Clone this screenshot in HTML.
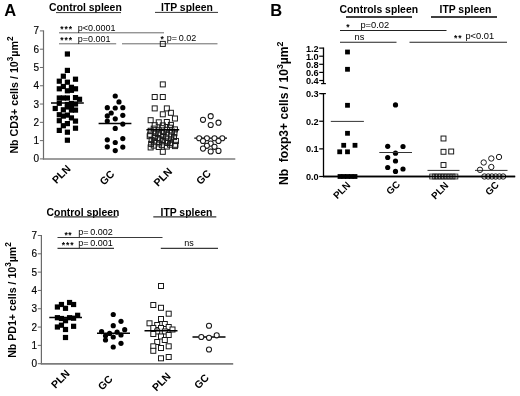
<!DOCTYPE html>
<html lang="en">
<head>
<meta charset="utf-8">
<title>Figure</title>
<style>
html,body{margin:0;padding:0;background:#fff;}
body{width:520px;height:396px;overflow:hidden;}
svg{display:block;font-family:"Liberation Sans", sans-serif;}
</style>
</head>
<body>
<svg width="520" height="396" viewBox="0 0 520 396">
<rect x="0" y="0" width="520" height="396" fill="#fff"/>
<text x="4.3" y="16.4" font-size="16.5" font-weight="bold" text-anchor="start" fill="#000" >A</text>
<text x="49" y="11.3" font-size="10.4" font-weight="bold" text-anchor="start" fill="#000" >Control spleen</text>
<line x1="56" y1="12.6" x2="121" y2="12.6" stroke="#333" stroke-width="1" />
<text x="161" y="11.3" font-size="10.4" font-weight="bold" text-anchor="start" fill="#000" >ITP spleen</text>
<line x1="155" y1="12.4" x2="218" y2="12.4" stroke="#333" stroke-width="1" />
<line x1="43.5" y1="30.4" x2="43.5" y2="159.5" stroke="#6a6a6a" stroke-width="1.2" />
<line x1="42.9" y1="159.0" x2="235.3" y2="159.0" stroke="#7c7c7c" stroke-width="1.7" />
<line x1="39.9" y1="158.9" x2="43.5" y2="158.9" stroke="#6a6a6a" stroke-width="1" />
<text x="39.1" y="162.4" font-size="10" text-anchor="end" fill="#000" stroke="#000" stroke-width="0.15">0</text>
<line x1="39.9" y1="140.61" x2="43.5" y2="140.61" stroke="#6a6a6a" stroke-width="1" />
<text x="39.1" y="144.11" font-size="10" text-anchor="end" fill="#000" stroke="#000" stroke-width="0.15">1</text>
<line x1="39.9" y1="122.33" x2="43.5" y2="122.33" stroke="#6a6a6a" stroke-width="1" />
<text x="39.1" y="125.83" font-size="10" text-anchor="end" fill="#000" stroke="#000" stroke-width="0.15">2</text>
<line x1="39.9" y1="104.04" x2="43.5" y2="104.04" stroke="#6a6a6a" stroke-width="1" />
<text x="39.1" y="107.54" font-size="10" text-anchor="end" fill="#000" stroke="#000" stroke-width="0.15">3</text>
<line x1="39.9" y1="85.76" x2="43.5" y2="85.76" stroke="#6a6a6a" stroke-width="1" />
<text x="39.1" y="89.26" font-size="10" text-anchor="end" fill="#000" stroke="#000" stroke-width="0.15">4</text>
<line x1="39.9" y1="67.47" x2="43.5" y2="67.47" stroke="#6a6a6a" stroke-width="1" />
<text x="39.1" y="70.97" font-size="10" text-anchor="end" fill="#000" stroke="#000" stroke-width="0.15">5</text>
<line x1="39.9" y1="49.19" x2="43.5" y2="49.19" stroke="#6a6a6a" stroke-width="1" />
<text x="39.1" y="52.69" font-size="10" text-anchor="end" fill="#000" stroke="#000" stroke-width="0.15">6</text>
<line x1="39.9" y1="30.9" x2="43.5" y2="30.9" stroke="#6a6a6a" stroke-width="1" />
<text x="39.1" y="34.4" font-size="10" text-anchor="end" fill="#000" stroke="#000" stroke-width="0.15">7</text>
<text x="17.8" y="153.6" font-size="10.7" font-weight="bold" text-anchor="start" fill="#000" transform="rotate(-90 17.8 153.6)" >Nb CD3+ cells / 10<tspan dy="-4.8" font-size="8.2">3</tspan><tspan dy="4.8">µm</tspan><tspan dy="-4.8" font-size="8.2">2</tspan></text>
<line x1="59" y1="32.8" x2="164" y2="32.8" stroke="#6a6a6a" stroke-width="1" />
<line x1="59" y1="43.8" x2="116.2" y2="43.8" stroke="#6a6a6a" stroke-width="1" />
<line x1="122" y1="43.8" x2="217.5" y2="43.8" stroke="#6a6a6a" stroke-width="1" />
<text x="61.8" y="31.78" font-size="8.5" font-weight="bold" text-anchor="middle" fill="#000">*</text>
<text x="66.2" y="31.78" font-size="8.5" font-weight="bold" text-anchor="middle" fill="#000">*</text>
<text x="70.5" y="31.78" font-size="8.5" font-weight="bold" text-anchor="middle" fill="#000">*</text>
<text x="77.7" y="30.5" font-size="9.0" text-anchor="start" fill="#000" >p&lt;0.0001</text>
<text x="61.8" y="42.97" font-size="8.5" font-weight="bold" text-anchor="middle" fill="#000">*</text>
<text x="66.2" y="42.97" font-size="8.5" font-weight="bold" text-anchor="middle" fill="#000">*</text>
<text x="70.5" y="42.97" font-size="8.5" font-weight="bold" text-anchor="middle" fill="#000">*</text>
<text x="77.7" y="41.6" font-size="9.0" text-anchor="start" fill="#000" >p=0.001</text>
<text x="162.2" y="42.17" font-size="8.5" font-weight="bold" text-anchor="middle" fill="#000">*</text>
<text x="166.8" y="41.4" font-size="9.0" fill="#000">p=<tspan dx="1.6">0.02</tspan></text>
<rect x="52.65" y="105.90" width="5.2" height="5.2" fill="#000"/>
<rect x="56.70" y="78.60" width="5.2" height="5.2" fill="#000"/>
<rect x="56.70" y="86.20" width="5.2" height="5.2" fill="#000"/>
<rect x="56.70" y="95.40" width="5.2" height="5.2" fill="#000"/>
<rect x="56.70" y="100.70" width="5.2" height="5.2" fill="#000"/>
<rect x="56.70" y="112.10" width="5.2" height="5.2" fill="#000"/>
<rect x="56.70" y="118.10" width="5.2" height="5.2" fill="#000"/>
<rect x="56.70" y="127.80" width="5.2" height="5.2" fill="#000"/>
<rect x="60.75" y="73.60" width="5.2" height="5.2" fill="#000"/>
<rect x="60.75" y="83.90" width="5.2" height="5.2" fill="#000"/>
<rect x="60.75" y="95.40" width="5.2" height="5.2" fill="#000"/>
<rect x="60.75" y="107.20" width="5.2" height="5.2" fill="#000"/>
<rect x="60.75" y="113.50" width="5.2" height="5.2" fill="#000"/>
<rect x="60.75" y="123.10" width="5.2" height="5.2" fill="#000"/>
<rect x="64.80" y="51.40" width="5.2" height="5.2" fill="#000"/>
<rect x="64.80" y="67.80" width="5.2" height="5.2" fill="#000"/>
<rect x="64.80" y="79.60" width="5.2" height="5.2" fill="#000"/>
<rect x="64.80" y="88.20" width="5.2" height="5.2" fill="#000"/>
<rect x="64.80" y="95.40" width="5.2" height="5.2" fill="#000"/>
<rect x="64.80" y="101.90" width="5.2" height="5.2" fill="#000"/>
<rect x="64.80" y="104.40" width="5.2" height="5.2" fill="#000"/>
<rect x="64.80" y="112.50" width="5.2" height="5.2" fill="#000"/>
<rect x="64.80" y="121.00" width="5.2" height="5.2" fill="#000"/>
<rect x="64.80" y="129.60" width="5.2" height="5.2" fill="#000"/>
<rect x="64.80" y="137.60" width="5.2" height="5.2" fill="#000"/>
<rect x="68.85" y="84.70" width="5.2" height="5.2" fill="#000"/>
<rect x="68.85" y="87.70" width="5.2" height="5.2" fill="#000"/>
<rect x="68.85" y="100.90" width="5.2" height="5.2" fill="#000"/>
<rect x="68.85" y="104.90" width="5.2" height="5.2" fill="#000"/>
<rect x="68.85" y="107.50" width="5.2" height="5.2" fill="#000"/>
<rect x="68.85" y="115.30" width="5.2" height="5.2" fill="#000"/>
<rect x="72.90" y="76.60" width="5.2" height="5.2" fill="#000"/>
<rect x="72.90" y="86.20" width="5.2" height="5.2" fill="#000"/>
<rect x="72.90" y="95.00" width="5.2" height="5.2" fill="#000"/>
<rect x="72.90" y="101.40" width="5.2" height="5.2" fill="#000"/>
<rect x="72.90" y="107.50" width="5.2" height="5.2" fill="#000"/>
<rect x="72.90" y="118.50" width="5.2" height="5.2" fill="#000"/>
<rect x="72.90" y="125.60" width="5.2" height="5.2" fill="#000"/>
<rect x="76.95" y="96.70" width="5.2" height="5.2" fill="#000"/>
<line x1="51" y1="102.9" x2="83.8" y2="102.9" stroke="#000" stroke-width="1.45" />
<circle cx="115.25" cy="96.00" r="2.6" fill="#000"/>
<circle cx="119.00" cy="101.90" r="2.6" fill="#000"/>
<circle cx="107.30" cy="107.70" r="2.6" fill="#000"/>
<circle cx="115.25" cy="108.00" r="2.6" fill="#000"/>
<circle cx="122.80" cy="107.70" r="2.6" fill="#000"/>
<circle cx="111.20" cy="113.00" r="2.6" fill="#000"/>
<circle cx="107.30" cy="115.90" r="2.6" fill="#000"/>
<circle cx="122.80" cy="115.30" r="2.6" fill="#000"/>
<circle cx="115.25" cy="118.80" r="2.6" fill="#000"/>
<circle cx="107.30" cy="121.00" r="2.6" fill="#000"/>
<circle cx="122.80" cy="124.10" r="2.6" fill="#000"/>
<circle cx="115.25" cy="128.40" r="2.6" fill="#000"/>
<circle cx="122.80" cy="138.60" r="2.6" fill="#000"/>
<circle cx="107.30" cy="139.80" r="2.6" fill="#000"/>
<circle cx="115.25" cy="142.50" r="2.6" fill="#000"/>
<circle cx="107.30" cy="146.80" r="2.6" fill="#000"/>
<circle cx="122.80" cy="147.10" r="2.6" fill="#000"/>
<circle cx="115.25" cy="150.60" r="2.6" fill="#000"/>
<line x1="98.6" y1="123.5" x2="131.4" y2="123.5" stroke="#000" stroke-width="1.45" />
<rect x="160.30" y="41.40" width="5.0" height="5.0" fill="none" stroke="#1a1a1a" stroke-width="1.0"/>
<rect x="160.30" y="81.90" width="5.0" height="5.0" fill="none" stroke="#1a1a1a" stroke-width="1.0"/>
<rect x="152.20" y="94.50" width="5.0" height="5.0" fill="none" stroke="#1a1a1a" stroke-width="1.0"/>
<rect x="160.30" y="94.50" width="5.0" height="5.0" fill="none" stroke="#1a1a1a" stroke-width="1.0"/>
<rect x="152.20" y="105.90" width="5.0" height="5.0" fill="none" stroke="#1a1a1a" stroke-width="1.0"/>
<rect x="164.35" y="105.90" width="5.0" height="5.0" fill="none" stroke="#1a1a1a" stroke-width="1.0"/>
<rect x="168.40" y="110.30" width="5.0" height="5.0" fill="none" stroke="#1a1a1a" stroke-width="1.0"/>
<rect x="160.30" y="111.80" width="5.0" height="5.0" fill="none" stroke="#1a1a1a" stroke-width="1.0"/>
<rect x="172.45" y="116.00" width="5.0" height="5.0" fill="none" stroke="#1a1a1a" stroke-width="1.0"/>
<rect x="148.15" y="117.70" width="5.0" height="5.0" fill="none" stroke="#1a1a1a" stroke-width="1.0"/>
<rect x="156.25" y="119.80" width="5.0" height="5.0" fill="none" stroke="#1a1a1a" stroke-width="1.0"/>
<rect x="164.35" y="119.50" width="5.0" height="5.0" fill="none" stroke="#1a1a1a" stroke-width="1.0"/>
<rect x="152.20" y="122.70" width="5.0" height="5.0" fill="none" stroke="#1a1a1a" stroke-width="1.0"/>
<rect x="160.30" y="122.90" width="5.0" height="5.0" fill="none" stroke="#1a1a1a" stroke-width="1.0"/>
<rect x="168.40" y="122.40" width="5.0" height="5.0" fill="none" stroke="#1a1a1a" stroke-width="1.0"/>
<rect x="151.23" y="126.10" width="5.0" height="5.0" fill="none" stroke="#1a1a1a" stroke-width="1.0"/>
<rect x="159.33" y="125.65" width="5.0" height="5.0" fill="none" stroke="#1a1a1a" stroke-width="1.0"/>
<rect x="167.43" y="125.20" width="5.0" height="5.0" fill="none" stroke="#1a1a1a" stroke-width="1.0"/>
<rect x="148.15" y="128.25" width="5.0" height="5.0" fill="none" stroke="#1a1a1a" stroke-width="1.0"/>
<rect x="156.25" y="127.80" width="5.0" height="5.0" fill="none" stroke="#1a1a1a" stroke-width="1.0"/>
<rect x="164.35" y="127.35" width="5.0" height="5.0" fill="none" stroke="#1a1a1a" stroke-width="1.0"/>
<rect x="172.45" y="126.90" width="5.0" height="5.0" fill="none" stroke="#1a1a1a" stroke-width="1.0"/>
<rect x="153.17" y="129.95" width="5.0" height="5.0" fill="none" stroke="#1a1a1a" stroke-width="1.0"/>
<rect x="161.27" y="129.50" width="5.0" height="5.0" fill="none" stroke="#1a1a1a" stroke-width="1.0"/>
<rect x="169.37" y="129.05" width="5.0" height="5.0" fill="none" stroke="#1a1a1a" stroke-width="1.0"/>
<rect x="147.66" y="132.10" width="5.0" height="5.0" fill="none" stroke="#1a1a1a" stroke-width="1.0"/>
<rect x="155.76" y="131.65" width="5.0" height="5.0" fill="none" stroke="#1a1a1a" stroke-width="1.0"/>
<rect x="163.86" y="131.20" width="5.0" height="5.0" fill="none" stroke="#1a1a1a" stroke-width="1.0"/>
<rect x="171.96" y="130.75" width="5.0" height="5.0" fill="none" stroke="#1a1a1a" stroke-width="1.0"/>
<rect x="152.69" y="133.80" width="5.0" height="5.0" fill="none" stroke="#1a1a1a" stroke-width="1.0"/>
<rect x="160.79" y="133.35" width="5.0" height="5.0" fill="none" stroke="#1a1a1a" stroke-width="1.0"/>
<rect x="168.89" y="132.90" width="5.0" height="5.0" fill="none" stroke="#1a1a1a" stroke-width="1.0"/>
<rect x="147.18" y="133.70" width="5.0" height="5.0" fill="none" stroke="#1a1a1a" stroke-width="1.0"/>
<rect x="155.28" y="135.50" width="5.0" height="5.0" fill="none" stroke="#1a1a1a" stroke-width="1.0"/>
<rect x="163.38" y="135.05" width="5.0" height="5.0" fill="none" stroke="#1a1a1a" stroke-width="1.0"/>
<rect x="171.48" y="134.60" width="5.0" height="5.0" fill="none" stroke="#1a1a1a" stroke-width="1.0"/>
<rect x="152.20" y="135.40" width="5.0" height="5.0" fill="none" stroke="#1a1a1a" stroke-width="1.0"/>
<rect x="160.30" y="137.20" width="5.0" height="5.0" fill="none" stroke="#1a1a1a" stroke-width="1.0"/>
<rect x="168.40" y="136.75" width="5.0" height="5.0" fill="none" stroke="#1a1a1a" stroke-width="1.0"/>
<rect x="149.12" y="137.55" width="5.0" height="5.0" fill="none" stroke="#1a1a1a" stroke-width="1.0"/>
<rect x="157.22" y="137.10" width="5.0" height="5.0" fill="none" stroke="#1a1a1a" stroke-width="1.0"/>
<rect x="165.32" y="138.90" width="5.0" height="5.0" fill="none" stroke="#1a1a1a" stroke-width="1.0"/>
<rect x="173.42" y="138.45" width="5.0" height="5.0" fill="none" stroke="#1a1a1a" stroke-width="1.0"/>
<rect x="151.71" y="139.25" width="5.0" height="5.0" fill="none" stroke="#1a1a1a" stroke-width="1.0"/>
<rect x="159.81" y="138.80" width="5.0" height="5.0" fill="none" stroke="#1a1a1a" stroke-width="1.0"/>
<rect x="167.91" y="140.60" width="5.0" height="5.0" fill="none" stroke="#1a1a1a" stroke-width="1.0"/>
<rect x="148.64" y="141.40" width="5.0" height="5.0" fill="none" stroke="#1a1a1a" stroke-width="1.0"/>
<rect x="156.74" y="140.95" width="5.0" height="5.0" fill="none" stroke="#1a1a1a" stroke-width="1.0"/>
<rect x="164.84" y="140.50" width="5.0" height="5.0" fill="none" stroke="#1a1a1a" stroke-width="1.0"/>
<rect x="172.94" y="142.30" width="5.0" height="5.0" fill="none" stroke="#1a1a1a" stroke-width="1.0"/>
<rect x="151.23" y="143.10" width="5.0" height="5.0" fill="none" stroke="#1a1a1a" stroke-width="1.0"/>
<rect x="159.33" y="142.65" width="5.0" height="5.0" fill="none" stroke="#1a1a1a" stroke-width="1.0"/>
<rect x="167.43" y="142.20" width="5.0" height="5.0" fill="none" stroke="#1a1a1a" stroke-width="1.0"/>
<rect x="148.15" y="144.95" width="5.0" height="5.0" fill="none" stroke="#1a1a1a" stroke-width="1.0"/>
<rect x="156.25" y="144.50" width="5.0" height="5.0" fill="none" stroke="#1a1a1a" stroke-width="1.0"/>
<rect x="164.35" y="144.05" width="5.0" height="5.0" fill="none" stroke="#1a1a1a" stroke-width="1.0"/>
<rect x="172.45" y="143.60" width="5.0" height="5.0" fill="none" stroke="#1a1a1a" stroke-width="1.0"/>
<rect x="160.30" y="149.30" width="5.0" height="5.0" fill="none" stroke="#1a1a1a" stroke-width="1.0"/>
<line x1="146.4" y1="129.8" x2="179.2" y2="129.8" stroke="#000" stroke-width="1.45" />
<line x1="194.3" y1="138.1" x2="227" y2="138.1" stroke="#000" stroke-width="1.45" />
<circle cx="210.70" cy="116.20" r="2.55" fill="#fff" stroke="#1a1a1a" stroke-width="1.05"/>
<circle cx="203.00" cy="119.80" r="2.55" fill="#fff" stroke="#1a1a1a" stroke-width="1.05"/>
<circle cx="218.50" cy="122.70" r="2.55" fill="#fff" stroke="#1a1a1a" stroke-width="1.05"/>
<circle cx="210.70" cy="125.00" r="2.55" fill="#fff" stroke="#1a1a1a" stroke-width="1.05"/>
<circle cx="199.20" cy="138.20" r="2.55" fill="#fff" stroke="#1a1a1a" stroke-width="1.05"/>
<circle cx="206.90" cy="138.20" r="2.55" fill="#fff" stroke="#1a1a1a" stroke-width="1.05"/>
<circle cx="214.50" cy="138.20" r="2.55" fill="#fff" stroke="#1a1a1a" stroke-width="1.05"/>
<circle cx="222.30" cy="138.20" r="2.55" fill="#fff" stroke="#1a1a1a" stroke-width="1.05"/>
<circle cx="203.00" cy="141.00" r="2.55" fill="#fff" stroke="#1a1a1a" stroke-width="1.05"/>
<circle cx="218.50" cy="141.00" r="2.55" fill="#fff" stroke="#1a1a1a" stroke-width="1.05"/>
<circle cx="210.70" cy="143.60" r="2.55" fill="#fff" stroke="#1a1a1a" stroke-width="1.05"/>
<circle cx="206.90" cy="145.80" r="2.55" fill="#fff" stroke="#1a1a1a" stroke-width="1.05"/>
<circle cx="214.50" cy="146.80" r="2.55" fill="#fff" stroke="#1a1a1a" stroke-width="1.05"/>
<circle cx="203.00" cy="148.60" r="2.55" fill="#fff" stroke="#1a1a1a" stroke-width="1.05"/>
<circle cx="210.70" cy="151.50" r="2.55" fill="#fff" stroke="#1a1a1a" stroke-width="1.05"/>
<circle cx="218.50" cy="150.90" r="2.55" fill="#fff" stroke="#1a1a1a" stroke-width="1.05"/>
<text transform="translate(61.15 174.2) rotate(-45)" x="0" y="3.76" font-size="10.5" font-weight="bold" text-anchor="middle" fill="#000">PLN</text>
<text transform="translate(106.8 177.6) rotate(-45)" x="0" y="3.76" font-size="10.5" font-weight="bold" text-anchor="middle" fill="#000">GC</text>
<text transform="translate(162.7 176.85) rotate(-45)" x="0" y="3.76" font-size="10.5" font-weight="bold" text-anchor="middle" fill="#000">PLN</text>
<text transform="translate(203.3 177.1) rotate(-45)" x="0" y="3.76" font-size="10.5" font-weight="bold" text-anchor="middle" fill="#000">GC</text>
<text x="46.6" y="215.5" font-size="10.4" font-weight="bold" text-anchor="start" fill="#000" >Control spleen</text>
<line x1="54" y1="216.9" x2="117.5" y2="216.9" stroke="#333" stroke-width="1.3" />
<text x="160.5" y="215.5" font-size="10.4" font-weight="bold" text-anchor="start" fill="#000" >ITP spleen</text>
<line x1="153.3" y1="216.9" x2="216.3" y2="216.9" stroke="#333" stroke-width="1.3" />
<line x1="41.4" y1="235.0" x2="41.4" y2="364.3" stroke="#6a6a6a" stroke-width="1.2" />
<line x1="40.8" y1="363.8" x2="233.2" y2="363.8" stroke="#7c7c7c" stroke-width="1.7" />
<line x1="37.8" y1="363.7" x2="41.4" y2="363.7" stroke="#6a6a6a" stroke-width="1" />
<text x="37.0" y="367.2" font-size="10" text-anchor="end" fill="#000" stroke="#000" stroke-width="0.15">0</text>
<line x1="37.8" y1="345.39" x2="41.4" y2="345.39" stroke="#6a6a6a" stroke-width="1" />
<text x="37.0" y="348.89" font-size="10" text-anchor="end" fill="#000" stroke="#000" stroke-width="0.15">1</text>
<line x1="37.8" y1="327.07" x2="41.4" y2="327.07" stroke="#6a6a6a" stroke-width="1" />
<text x="37.0" y="330.57" font-size="10" text-anchor="end" fill="#000" stroke="#000" stroke-width="0.15">2</text>
<line x1="37.8" y1="308.76" x2="41.4" y2="308.76" stroke="#6a6a6a" stroke-width="1" />
<text x="37.0" y="312.26" font-size="10" text-anchor="end" fill="#000" stroke="#000" stroke-width="0.15">3</text>
<line x1="37.8" y1="290.44" x2="41.4" y2="290.44" stroke="#6a6a6a" stroke-width="1" />
<text x="37.0" y="293.94" font-size="10" text-anchor="end" fill="#000" stroke="#000" stroke-width="0.15">4</text>
<line x1="37.8" y1="272.13" x2="41.4" y2="272.13" stroke="#6a6a6a" stroke-width="1" />
<text x="37.0" y="275.63" font-size="10" text-anchor="end" fill="#000" stroke="#000" stroke-width="0.15">5</text>
<line x1="37.8" y1="253.81" x2="41.4" y2="253.81" stroke="#6a6a6a" stroke-width="1" />
<text x="37.0" y="257.31" font-size="10" text-anchor="end" fill="#000" stroke="#000" stroke-width="0.15">6</text>
<line x1="37.8" y1="235.5" x2="41.4" y2="235.5" stroke="#6a6a6a" stroke-width="1" />
<text x="37.0" y="239.0" font-size="10" text-anchor="end" fill="#000" stroke="#000" stroke-width="0.15">7</text>
<text x="15.8" y="357.8" font-size="10.6" font-weight="bold" text-anchor="start" fill="#000" transform="rotate(-90 15.8 357.8)" >Nb PD1+ cells / 10<tspan dy="-4.8" font-size="8.2">3</tspan><tspan dy="4.8">µm</tspan><tspan dy="-4.8" font-size="8.2">2</tspan></text>
<line x1="57.5" y1="237.5" x2="162.5" y2="237.5" stroke="#3a3a3a" stroke-width="1.1" />
<line x1="57.5" y1="248.4" x2="114" y2="248.4" stroke="#3a3a3a" stroke-width="1.1" />
<line x1="160.8" y1="248.4" x2="218" y2="248.4" stroke="#3a3a3a" stroke-width="1.1" />
<text x="66.2" y="237.88" font-size="8.5" font-weight="bold" text-anchor="middle" fill="#000">*</text>
<text x="69.9" y="237.88" font-size="8.5" font-weight="bold" text-anchor="middle" fill="#000">*</text>
<text x="78.3" y="235.3" font-size="9.0" fill="#000">p=<tspan dx="1.7">0.002</tspan></text>
<text x="63.5" y="247.88" font-size="8.5" font-weight="bold" text-anchor="middle" fill="#000">*</text>
<text x="67.6" y="247.88" font-size="8.5" font-weight="bold" text-anchor="middle" fill="#000">*</text>
<text x="71.9" y="247.88" font-size="8.5" font-weight="bold" text-anchor="middle" fill="#000">*</text>
<text x="78.3" y="246.3" font-size="9.0" fill="#000">p=<tspan dx="1.7">0.001</tspan></text>
<text x="184.3" y="245.5" font-size="9" text-anchor="start" fill="#000" >ns</text>
<rect x="66.95" y="299.90" width="5.2" height="5.2" fill="#000"/>
<rect x="58.85" y="301.90" width="5.2" height="5.2" fill="#000"/>
<rect x="71.00" y="301.90" width="5.2" height="5.2" fill="#000"/>
<rect x="54.80" y="304.40" width="5.2" height="5.2" fill="#000"/>
<rect x="62.90" y="305.70" width="5.2" height="5.2" fill="#000"/>
<rect x="75.05" y="312.70" width="5.2" height="5.2" fill="#000"/>
<rect x="54.80" y="315.10" width="5.2" height="5.2" fill="#000"/>
<rect x="58.85" y="315.90" width="5.2" height="5.2" fill="#000"/>
<rect x="66.95" y="315.10" width="5.2" height="5.2" fill="#000"/>
<rect x="71.00" y="315.60" width="5.2" height="5.2" fill="#000"/>
<rect x="62.90" y="318.10" width="5.2" height="5.2" fill="#000"/>
<rect x="58.85" y="322.60" width="5.2" height="5.2" fill="#000"/>
<rect x="54.80" y="324.40" width="5.2" height="5.2" fill="#000"/>
<rect x="71.00" y="323.70" width="5.2" height="5.2" fill="#000"/>
<rect x="62.90" y="326.90" width="5.2" height="5.2" fill="#000"/>
<rect x="62.90" y="334.90" width="5.2" height="5.2" fill="#000"/>
<line x1="49.3" y1="317.5" x2="82" y2="317.5" stroke="#000" stroke-width="1.45" />
<circle cx="113.25" cy="314.50" r="2.6" fill="#000"/>
<circle cx="121.00" cy="321.30" r="2.6" fill="#000"/>
<circle cx="113.25" cy="325.70" r="2.6" fill="#000"/>
<circle cx="124.70" cy="329.70" r="2.6" fill="#000"/>
<circle cx="101.60" cy="331.60" r="2.6" fill="#000"/>
<circle cx="109.60" cy="333.40" r="2.6" fill="#000"/>
<circle cx="117.10" cy="332.20" r="2.6" fill="#000"/>
<circle cx="121.00" cy="335.00" r="2.6" fill="#000"/>
<circle cx="105.50" cy="335.80" r="2.6" fill="#000"/>
<circle cx="113.25" cy="337.00" r="2.6" fill="#000"/>
<circle cx="105.50" cy="340.00" r="2.6" fill="#000"/>
<circle cx="121.00" cy="343.30" r="2.6" fill="#000"/>
<circle cx="113.25" cy="347.00" r="2.6" fill="#000"/>
<line x1="97" y1="333.3" x2="130" y2="333.3" stroke="#000" stroke-width="1.45" />
<rect x="158.50" y="283.50" width="5.0" height="5.0" fill="#fff" stroke="#1a1a1a" stroke-width="1.0"/>
<rect x="150.80" y="302.50" width="5.0" height="5.0" fill="#fff" stroke="#1a1a1a" stroke-width="1.0"/>
<rect x="158.50" y="305.30" width="5.0" height="5.0" fill="#fff" stroke="#1a1a1a" stroke-width="1.0"/>
<rect x="166.20" y="311.20" width="5.0" height="5.0" fill="#fff" stroke="#1a1a1a" stroke-width="1.0"/>
<rect x="158.50" y="316.50" width="5.0" height="5.0" fill="#fff" stroke="#1a1a1a" stroke-width="1.0"/>
<rect x="147.00" y="320.80" width="5.0" height="5.0" fill="#fff" stroke="#1a1a1a" stroke-width="1.0"/>
<rect x="154.70" y="322.50" width="5.0" height="5.0" fill="#fff" stroke="#1a1a1a" stroke-width="1.0"/>
<rect x="162.30" y="321.50" width="5.0" height="5.0" fill="#fff" stroke="#1a1a1a" stroke-width="1.0"/>
<rect x="150.80" y="325.50" width="5.0" height="5.0" fill="#fff" stroke="#1a1a1a" stroke-width="1.0"/>
<rect x="158.50" y="325.50" width="5.0" height="5.0" fill="#fff" stroke="#1a1a1a" stroke-width="1.0"/>
<rect x="166.20" y="324.50" width="5.0" height="5.0" fill="#fff" stroke="#1a1a1a" stroke-width="1.0"/>
<rect x="170.00" y="327.00" width="5.0" height="5.0" fill="#fff" stroke="#1a1a1a" stroke-width="1.0"/>
<rect x="154.70" y="329.00" width="5.0" height="5.0" fill="#fff" stroke="#1a1a1a" stroke-width="1.0"/>
<rect x="162.30" y="329.00" width="5.0" height="5.0" fill="#fff" stroke="#1a1a1a" stroke-width="1.0"/>
<rect x="150.80" y="331.50" width="5.0" height="5.0" fill="#fff" stroke="#1a1a1a" stroke-width="1.0"/>
<rect x="158.50" y="334.00" width="5.0" height="5.0" fill="#fff" stroke="#1a1a1a" stroke-width="1.0"/>
<rect x="166.20" y="332.50" width="5.0" height="5.0" fill="#fff" stroke="#1a1a1a" stroke-width="1.0"/>
<rect x="162.30" y="337.50" width="5.0" height="5.0" fill="#fff" stroke="#1a1a1a" stroke-width="1.0"/>
<rect x="154.70" y="339.50" width="5.0" height="5.0" fill="#fff" stroke="#1a1a1a" stroke-width="1.0"/>
<rect x="150.80" y="343.80" width="5.0" height="5.0" fill="#fff" stroke="#1a1a1a" stroke-width="1.0"/>
<rect x="166.20" y="343.80" width="5.0" height="5.0" fill="#fff" stroke="#1a1a1a" stroke-width="1.0"/>
<rect x="158.50" y="345.50" width="5.0" height="5.0" fill="#fff" stroke="#1a1a1a" stroke-width="1.0"/>
<rect x="150.80" y="348.30" width="5.0" height="5.0" fill="#fff" stroke="#1a1a1a" stroke-width="1.0"/>
<rect x="158.50" y="355.80" width="5.0" height="5.0" fill="#fff" stroke="#1a1a1a" stroke-width="1.0"/>
<rect x="166.20" y="354.50" width="5.0" height="5.0" fill="#fff" stroke="#1a1a1a" stroke-width="1.0"/>
<line x1="144.5" y1="330.8" x2="177.5" y2="330.8" stroke="#000" stroke-width="1.45" />
<line x1="192.5" y1="337" x2="225.5" y2="337" stroke="#000" stroke-width="1.45" />
<circle cx="209.00" cy="325.70" r="2.55" fill="#fff" stroke="#1a1a1a" stroke-width="1.05"/>
<circle cx="201.30" cy="337.00" r="2.55" fill="#fff" stroke="#1a1a1a" stroke-width="1.05"/>
<circle cx="209.00" cy="337.80" r="2.55" fill="#fff" stroke="#1a1a1a" stroke-width="1.05"/>
<circle cx="216.70" cy="335.30" r="2.55" fill="#fff" stroke="#1a1a1a" stroke-width="1.05"/>
<circle cx="209.00" cy="349.50" r="2.55" fill="#fff" stroke="#1a1a1a" stroke-width="1.05"/>
<text transform="translate(60.2 378.8) rotate(-45)" x="0" y="3.76" font-size="10.5" font-weight="bold" text-anchor="middle" fill="#000">PLN</text>
<text transform="translate(105.2 382.5) rotate(-45)" x="0" y="3.76" font-size="10.5" font-weight="bold" text-anchor="middle" fill="#000">GC</text>
<text transform="translate(161.35 381.55) rotate(-45)" x="0" y="3.76" font-size="10.5" font-weight="bold" text-anchor="middle" fill="#000">PLN</text>
<text transform="translate(201.5 381.35) rotate(-45)" x="0" y="3.76" font-size="10.5" font-weight="bold" text-anchor="middle" fill="#000">GC</text>
<text x="270.3" y="16.4" font-size="16.5" font-weight="bold" text-anchor="start" fill="#000" >B</text>
<text x="339.5" y="13" font-size="10.4" font-weight="bold" text-anchor="start" fill="#000" >Controls spleen</text>
<line x1="346" y1="16.9" x2="412" y2="16.9" stroke="#000" stroke-width="1.5" />
<text x="439.5" y="13" font-size="10.4" font-weight="bold" text-anchor="start" fill="#000" >ITP spleen</text>
<line x1="431" y1="16.9" x2="497" y2="16.9" stroke="#000" stroke-width="1.5" />
<line x1="340" y1="30.5" x2="446.5" y2="30.5" stroke="#222" stroke-width="1.1" />
<line x1="340" y1="42.3" x2="396.5" y2="42.3" stroke="#222" stroke-width="1.1" />
<line x1="409.5" y1="42.3" x2="507" y2="42.3" stroke="#222" stroke-width="1.1" />
<text x="347.9" y="29.78" font-size="8.5" font-weight="bold" text-anchor="middle" fill="#000">*</text>
<text x="360.4" y="28.3" font-size="9.3" text-anchor="start" fill="#000" >p=0.02</text>
<text x="354.6" y="40.3" font-size="9.3" text-anchor="start" fill="#000" >ns</text>
<text x="455.6" y="41.17" font-size="8.5" font-weight="bold" text-anchor="middle" fill="#000">*</text>
<text x="460" y="41.17" font-size="8.5" font-weight="bold" text-anchor="middle" fill="#000">*</text>
<text x="465.4" y="38.6" font-size="9.3" text-anchor="start" fill="#000" >p&lt;0.01</text>
<line x1="323.5" y1="47.5" x2="323.5" y2="83.6" stroke="#000" stroke-width="1.3" />
<line x1="321.1" y1="83.6" x2="325.9" y2="83.6" stroke="#000" stroke-width="1.2" />
<line x1="319.2" y1="48.1" x2="323.5" y2="48.1" stroke="#000" stroke-width="1.2" />
<text x="318.7" y="51.55" font-size="9.8" font-weight="bold" text-anchor="end" fill="#000" textLength="12.8" lengthAdjust="spacingAndGlyphs">1.2</text>
<line x1="319.2" y1="56.2" x2="323.5" y2="56.2" stroke="#000" stroke-width="1.2" />
<text x="318.7" y="59.65" font-size="9.8" font-weight="bold" text-anchor="end" fill="#000" textLength="12.8" lengthAdjust="spacingAndGlyphs">1.0</text>
<line x1="319.2" y1="64.3" x2="323.5" y2="64.3" stroke="#000" stroke-width="1.2" />
<text x="318.7" y="67.75" font-size="9.8" font-weight="bold" text-anchor="end" fill="#000" textLength="12.8" lengthAdjust="spacingAndGlyphs">0.8</text>
<line x1="319.2" y1="72.4" x2="323.5" y2="72.4" stroke="#000" stroke-width="1.2" />
<text x="318.7" y="75.85" font-size="9.8" font-weight="bold" text-anchor="end" fill="#000" textLength="12.8" lengthAdjust="spacingAndGlyphs">0.6</text>
<line x1="319.2" y1="80.5" x2="323.5" y2="80.5" stroke="#000" stroke-width="1.2" />
<text x="318.7" y="83.95" font-size="9.8" font-weight="bold" text-anchor="end" fill="#000" textLength="12.8" lengthAdjust="spacingAndGlyphs">0.4</text>
<line x1="321.1" y1="93.6" x2="325.9" y2="93.6" stroke="#000" stroke-width="1.2" />
<line x1="323.5" y1="93.6" x2="323.5" y2="177.1" stroke="#000" stroke-width="1.3" />
<line x1="322.9" y1="176.5" x2="515" y2="176.5" stroke="#000" stroke-width="1.3" />
<line x1="319.2" y1="176.5" x2="323.5" y2="176.5" stroke="#000" stroke-width="1.2" />
<text x="318.7" y="179.95" font-size="9.8" font-weight="bold" text-anchor="end" fill="#000" textLength="12.8" lengthAdjust="spacingAndGlyphs">0.0</text>
<line x1="319.2" y1="148.87" x2="323.5" y2="148.87" stroke="#000" stroke-width="1.2" />
<text x="318.7" y="152.32" font-size="9.8" font-weight="bold" text-anchor="end" fill="#000" textLength="12.8" lengthAdjust="spacingAndGlyphs">0.1</text>
<line x1="319.2" y1="121.24" x2="323.5" y2="121.24" stroke="#000" stroke-width="1.2" />
<text x="318.7" y="124.69" font-size="9.8" font-weight="bold" text-anchor="end" fill="#000" textLength="12.8" lengthAdjust="spacingAndGlyphs">0.2</text>
<line x1="319.2" y1="93.61" x2="323.5" y2="93.61" stroke="#000" stroke-width="1.2" />
<text x="318.7" y="97.06" font-size="9.8" font-weight="bold" text-anchor="end" fill="#000" textLength="12.8" lengthAdjust="spacingAndGlyphs">0.3</text>
<text x="288.3" y="185" font-size="12.1" font-weight="bold" text-anchor="start" fill="#000" transform="rotate(-90 288.3 185)" >Nb&#160;&#160;foxp3+ cells / 10<tspan dy="-5.2" font-size="8.8">3</tspan><tspan dy="5.2">µm</tspan><tspan dy="-5.2" font-size="8.8">2</tspan></text>
<rect x="345.10" y="49.60" width="4.8" height="4.8" fill="#000"/>
<rect x="345.10" y="66.90" width="4.8" height="4.8" fill="#000"/>
<rect x="345.10" y="102.90" width="4.8" height="4.8" fill="#000"/>
<rect x="345.10" y="130.90" width="4.8" height="4.8" fill="#000"/>
<rect x="341.30" y="142.90" width="4.8" height="4.8" fill="#000"/>
<rect x="352.60" y="142.90" width="4.8" height="4.8" fill="#000"/>
<rect x="337.30" y="149.40" width="4.8" height="4.8" fill="#000"/>
<rect x="345.10" y="149.40" width="4.8" height="4.8" fill="#000"/>
<rect x="337.60" y="174.10" width="4.8" height="4.8" fill="#000"/>
<rect x="341.35" y="174.10" width="4.8" height="4.8" fill="#000"/>
<rect x="345.10" y="174.10" width="4.8" height="4.8" fill="#000"/>
<rect x="348.85" y="174.10" width="4.8" height="4.8" fill="#000"/>
<rect x="352.60" y="174.10" width="4.8" height="4.8" fill="#000"/>
<line x1="330.8" y1="121.4" x2="363.9" y2="121.4" stroke="#333" stroke-width="1.0" />
<circle cx="395.50" cy="104.90" r="2.6" fill="#000"/>
<circle cx="403.00" cy="146.50" r="2.6" fill="#000"/>
<circle cx="387.70" cy="146.30" r="2.6" fill="#000"/>
<circle cx="395.50" cy="153.20" r="2.6" fill="#000"/>
<circle cx="387.70" cy="157.50" r="2.6" fill="#000"/>
<circle cx="395.50" cy="161.00" r="2.6" fill="#000"/>
<circle cx="387.70" cy="167.50" r="2.6" fill="#000"/>
<circle cx="403.00" cy="169.00" r="2.6" fill="#000"/>
<circle cx="395.50" cy="171.40" r="2.6" fill="#000"/>
<line x1="379.3" y1="152.5" x2="412" y2="152.5" stroke="#333" stroke-width="1.0" />
<line x1="427.5" y1="170.4" x2="459.5" y2="170.4" stroke="#333" stroke-width="1.0" />
<rect x="441.05" y="136.05" width="4.9" height="4.9" fill="#fff" stroke="#1a1a1a" stroke-width="1.0"/>
<rect x="441.05" y="149.35" width="4.9" height="4.9" fill="#fff" stroke="#1a1a1a" stroke-width="1.0"/>
<rect x="448.75" y="149.05" width="4.9" height="4.9" fill="#fff" stroke="#1a1a1a" stroke-width="1.0"/>
<rect x="441.05" y="162.55" width="4.9" height="4.9" fill="#fff" stroke="#1a1a1a" stroke-width="1.0"/>
<rect x="429.75" y="174.05" width="4.9" height="4.9" fill="none" stroke="#1a1a1a" stroke-width="0.8"/>
<rect x="432.65" y="174.05" width="4.9" height="4.9" fill="none" stroke="#1a1a1a" stroke-width="0.8"/>
<rect x="435.55" y="174.05" width="4.9" height="4.9" fill="none" stroke="#1a1a1a" stroke-width="0.8"/>
<rect x="438.45" y="174.05" width="4.9" height="4.9" fill="none" stroke="#1a1a1a" stroke-width="0.8"/>
<rect x="441.35" y="174.05" width="4.9" height="4.9" fill="none" stroke="#1a1a1a" stroke-width="0.8"/>
<rect x="444.25" y="174.05" width="4.9" height="4.9" fill="none" stroke="#1a1a1a" stroke-width="0.8"/>
<rect x="447.15" y="174.05" width="4.9" height="4.9" fill="none" stroke="#1a1a1a" stroke-width="0.8"/>
<rect x="450.05" y="174.05" width="4.9" height="4.9" fill="none" stroke="#1a1a1a" stroke-width="0.8"/>
<rect x="452.95" y="174.05" width="4.9" height="4.9" fill="none" stroke="#1a1a1a" stroke-width="0.8"/>
<line x1="475" y1="170.4" x2="507.5" y2="170.4" stroke="#333" stroke-width="1.0" />
<circle cx="499.00" cy="157.00" r="2.7" fill="none" stroke="#1a1a1a" stroke-width="1.0"/>
<circle cx="491.30" cy="158.50" r="2.7" fill="none" stroke="#1a1a1a" stroke-width="1.0"/>
<circle cx="483.70" cy="162.50" r="2.7" fill="none" stroke="#1a1a1a" stroke-width="1.0"/>
<circle cx="491.30" cy="167.00" r="2.7" fill="none" stroke="#1a1a1a" stroke-width="1.0"/>
<circle cx="480.00" cy="169.80" r="2.7" fill="none" stroke="#1a1a1a" stroke-width="1.0"/>
<circle cx="484.40" cy="176.50" r="2.7" fill="none" stroke="#1a1a1a" stroke-width="1.0"/>
<circle cx="488.15" cy="176.50" r="2.7" fill="none" stroke="#1a1a1a" stroke-width="1.0"/>
<circle cx="491.90" cy="176.50" r="2.7" fill="none" stroke="#1a1a1a" stroke-width="1.0"/>
<circle cx="495.65" cy="176.50" r="2.7" fill="none" stroke="#1a1a1a" stroke-width="1.0"/>
<circle cx="499.40" cy="176.50" r="2.7" fill="none" stroke="#1a1a1a" stroke-width="1.0"/>
<circle cx="503.15" cy="176.50" r="2.7" fill="none" stroke="#1a1a1a" stroke-width="1.0"/>
<line x1="322.9" y1="176.5" x2="515.3" y2="176.5" stroke="#000" stroke-width="1.3" />
<text transform="translate(341.65 190.15) rotate(-45)" x="0" y="3.51" font-size="9.8" font-weight="bold" text-anchor="middle" fill="#000">PLN</text>
<text transform="translate(393.05 187.6) rotate(-45)" x="0" y="3.51" font-size="9.8" font-weight="bold" text-anchor="middle" fill="#000">GC</text>
<text transform="translate(439.7 190.55) rotate(-45)" x="0" y="3.51" font-size="9.8" font-weight="bold" text-anchor="middle" fill="#000">PLN</text>
<text transform="translate(491.9 188.25) rotate(-45)" x="0" y="3.51" font-size="9.8" font-weight="bold" text-anchor="middle" fill="#000">GC</text>
</svg>
</body>
</html>
